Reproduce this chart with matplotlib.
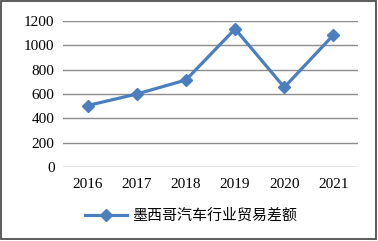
import matplotlib
matplotlib.use("Agg")
import matplotlib.pyplot as plt
from matplotlib.patches import Rectangle

years = ["2016", "2017", "2018", "2019", "2020", "2021"]
trade_balance = [505, 600, 715, 1135, 655, 1085]
yticks = [0, 200, 400, 600, 800, 1000, 1200]
series_label = "墨西哥汽车行业贸易差额"

LINE_COLOR = "#4A7EBE"
GRID_COLOR = "#8C8C8C"

fig = plt.figure(figsize=(3.78, 2.41), dpi=100)
ax = fig.add_axes([63 / 378, 1 - 167 / 241, 295 / 378, 146 / 241])

x = range(len(years))
ax.plot(x, trade_balance, color=LINE_COLOR, lw=2.3, marker="D", ms=6.5,
        label=series_label, zorder=3)

ax.set_xlim(-0.5, len(years) - 0.5)
ax.set_ylim(0, 1200)
ax.set_yticks(yticks)
ax.set_xticks(list(x))
ax.set_xticklabels(years)
ax.yaxis.grid(True, color=GRID_COLOR, lw=1.0)
ax.set_axisbelow(True)
for s in ax.spines.values():
    s.set_visible(False)
ax.tick_params(length=0, labelsize=11, pad=6)
ax.tick_params(axis="x", pad=8)
for lab in ax.get_xticklabels() + ax.get_yticklabels():
    lab.set_family("Liberation Serif")

leg = fig.legend(loc="center", bbox_to_anchor=(191 / 378, 1 - 216 / 241),
                 frameon=False, handlelength=2.8, handletextpad=0.3,
                 prop={"family": ["Noto Sans CJK SC", "DejaVu Sans"], "size": 10.8})

# outer chart border
fig.patches.append(Rectangle((1 / 378, 2 / 241), 375 / 378, 238 / 241,
                             transform=fig.transFigure, fill=False,
                             edgecolor="#404040", lw=1.2))

fig.savefig("out.png", dpi=100)
